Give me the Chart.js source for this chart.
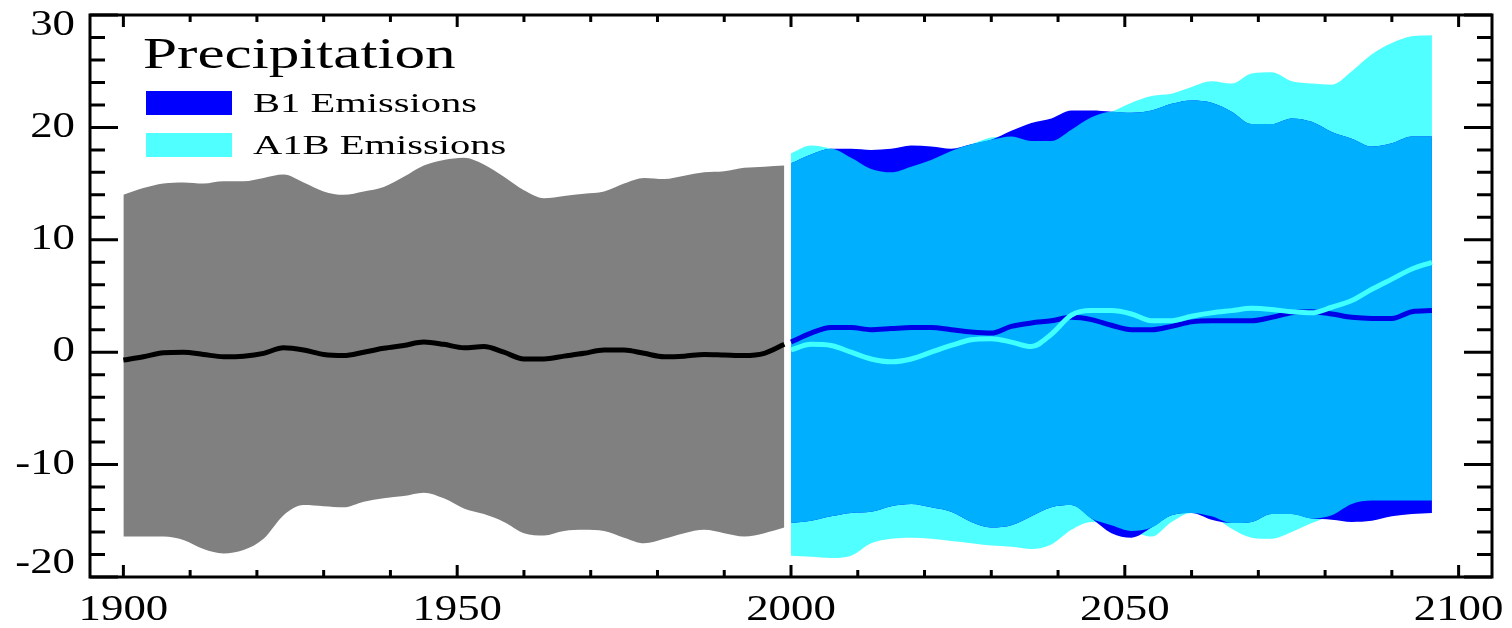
<!DOCTYPE html>
<html>
<head>
<meta charset="utf-8">
<script src="https://cdn.jsdelivr.net/npm/chart.js@4.4.1/dist/chart.umd.min.js"></script>
<style>
  html, body { margin: 0; padding: 0; background: #fff; }
  #wrap { width: 1512px; height: 628px; position: relative; }
</style>
</head>
<body>
<div id="wrap"><canvas id="myChart"></canvas></div>
<script>
const histYears = [1900, 1903, 1906, 1909, 1912, 1915, 1918, 1921, 1924, 1927, 1930, 1933, 1936, 1939, 1942, 1945, 1948,
    1951, 1954, 1957, 1960, 1963, 1966, 1969, 1972, 1975, 1978, 1981, 1984, 1987, 1990, 1993, 1996, 1999];
const histUpper = [14.0, 14.6, 15.0, 15.1, 15.0, 15.2, 15.2, 15.5, 15.8, 15.1, 14.3, 14.0, 14.3, 14.7, 15.6, 16.6, 17.1,
    17.3, 16.7, 15.6, 14.4, 13.7, 13.9, 14.1, 14.3, 15.0, 15.5, 15.4, 15.7, 16.0, 16.1, 16.4, 16.5, 16.6];
const histLower = [-16.4, -16.4, -16.4, -16.7, -17.5, -17.9, -17.6, -16.6, -14.5, -13.6, -13.7, -13.8, -13.3, -13.0, -12.8, -12.5, -13.0,
    -13.9, -14.4, -15.1, -16.1, -16.3, -15.9, -15.8, -15.9, -16.5, -17.0, -16.6, -16.1, -15.8, -16.1, -16.4, -16.1, -15.6];
const histMean = [-0.7, -0.4, -0.05, 0.0, -0.2, -0.4, -0.35, -0.1, 0.4, 0.2, -0.2, -0.3, 0.0, 0.35, 0.6, 0.9, 0.7,
    0.4, 0.5, 0.0, -0.6, -0.6, -0.35, -0.1, 0.2, 0.2, -0.1, -0.4, -0.35, -0.2, -0.25, -0.3, -0.1, 0.7];

const futYears = [2000, 2003, 2006, 2009, 2012, 2015, 2018, 2021, 2024, 2027, 2030, 2033, 2036, 2039, 2042, 2045, 2048,
    2051, 2054, 2057, 2060, 2063, 2066, 2069, 2072, 2075, 2078, 2081, 2084, 2087, 2090, 2093, 2096];
const b1Upper = [16.8, 17.6, 18.1, 18.1, 18.0, 18.1, 18.4, 18.3, 18.1, 18.5, 18.9, 19.7, 20.4, 20.8, 21.5, 21.5, 21.4,
    21.3, 21.5, 22.1, 22.4, 22.2, 21.4, 20.3, 20.3, 20.8, 20.5, 19.6, 19.0, 18.3, 18.6, 19.2, 19.2];
const b1Lower = [-15.2, -15.0, -14.6, -14.3, -14.2, -13.7, -13.5, -13.8, -14.2, -15.1, -15.6, -15.4, -14.6, -13.8, -13.6, -14.8, -16.1,
    -16.5, -15.6, -14.5, -14.3, -14.9, -15.2, -15.1, -14.4, -14.4, -14.8, -14.9, -15.1, -15.0, -14.6, -14.4, -14.3];
const b1Mean = [0.9, 1.7, 2.2, 2.2, 2.0, 2.1, 2.2, 2.2, 2.0, 1.8, 1.7, 2.3, 2.6, 2.8, 3.1, 2.9, 2.4,
    2.0, 2.0, 2.3, 2.7, 2.8, 2.8, 2.8, 3.1, 3.5, 3.6, 3.4, 3.1, 3.0, 3.0, 3.6, 3.7];
const a1bUpper = [17.7, 18.4, 18.1, 17.3, 16.3, 16.0, 16.5, 17.1, 17.9, 18.5, 19.1, 19.2, 18.8, 18.8, 19.8, 20.9, 21.4,
    22.2, 22.8, 23.0, 23.6, 24.1, 23.9, 24.8, 24.9, 24.1, 23.9, 23.8, 25.0, 26.5, 27.5, 28.1, 28.2];
const a1bLower = [-18.1, -18.2, -18.3, -18.1, -17.0, -16.6, -16.5, -16.6, -16.8, -17.0, -17.2, -17.3, -17.5, -17.1, -15.8, -15.1, -15.4,
    -15.9, -16.4, -15.1, -14.3, -14.6, -15.7, -16.5, -16.6, -16.0, -15.2, -14.5, -13.5, -13.2, -13.2, -13.2, -13.2];
const a1bMean = [0.2, 0.7, 0.6, 0.0, -0.6, -0.85, -0.6, 0.0, 0.6, 1.1, 1.2, 0.9, 0.5, 1.6, 3.3, 3.7, 3.7,
    3.4, 2.8, 2.8, 3.2, 3.5, 3.7, 3.9, 3.8, 3.6, 3.5, 4.0, 4.6, 5.6, 6.5, 7.4, 8.0];

const yTicks = [-20, -10, 0, 10, 20, 30];
const xTicks = [1900, 1950, 2000, 2050, 2100];

const pts = (xs, ys) => xs.map((x, i) => ({ x: x, y: ys[i] }));
const bothLower = b1Lower.map((v, i) => Math.max(v, a1bLower[i]));
const bothUpper = b1Upper.map((v, i) => Math.min(v, a1bUpper[i]));

const band = (data, color, fill, order) => ({
    data: data,
    borderWidth: 0,
    borderColor: 'rgba(0,0,0,0)',
    backgroundColor: color,
    pointRadius: 0,
    fill: fill,
    order: order
});

const line = (data, color, order) => ({
    data: data,
    borderWidth: 5,
    borderColor: color,
    pointRadius: 0,
    fill: false,
    order: order
});

function stretchText(ctx, text, x, y, size, sx, align, base) {
    ctx.save();
    ctx.font = size + 'px "Liberation Serif", "Times New Roman", serif';
    ctx.textAlign = 'left';
    ctx.textBaseline = base;
    const w = ctx.measureText(text).width * sx;
    let left = x;
    if (align === 'right') left = x - w;
    if (align === 'center') left = x - w / 2;
    ctx.translate(left, y);
    ctx.scale(sx, 1);
    ctx.fillStyle = '#000';
    ctx.fillText(text, 0, 0);
    ctx.restore();
}

const framePlugin = {
    id: 'frame',
    afterDraw(chart) {
        const ctx = chart.ctx;
        const a = chart.chartArea;
        const xs = chart.scales.x;
        const ys = chart.scales.y;
        ctx.save();
        ctx.strokeStyle = '#000';
        ctx.lineWidth = 3;
        ctx.strokeRect(a.left, a.top, a.right - a.left, a.bottom - a.top);

        ctx.beginPath();
        for (let v = -20; v <= 30; v += 2) {
            const py = ys.getPixelForValue(v);
            const len = v % 10 === 0 ? 28 : 15;
            ctx.moveTo(a.left, py); ctx.lineTo(a.left + len, py);
            ctx.moveTo(a.right, py); ctx.lineTo(a.right - len, py);
        }
        for (let v = 1900; v <= 2100; v += 10) {
            const px = xs.getPixelForValue(v);
            const len = v % 50 === 0 ? 12 : 7;
            ctx.moveTo(px, a.bottom); ctx.lineTo(px, a.bottom - len);
            ctx.moveTo(px, a.top); ctx.lineTo(px, a.top + len);
        }
        ctx.stroke();
        ctx.restore();

        yTicks.forEach(v => {
            let py = ys.getPixelForValue(v);
            py = Math.max(a.top + 11, Math.min(a.bottom - 13, py));
            stretchText(ctx, String(v), 75, py, 35, 1.28, 'right', 'middle');
        });
        xTicks.forEach(v => {
            stretchText(ctx, String(v), xs.getPixelForValue(v), 611, 35, 1.28, 'center', 'middle');
        });

        stretchText(ctx, 'Precipitation', 143, 68, 45, 1.36, 'left', 'alphabetic');
        ctx.fillStyle = '#0000FF';
        ctx.fillRect(146, 91, 86, 24);
        ctx.fillStyle = '#50FFFF';
        ctx.fillRect(146, 133, 86, 24);
        stretchText(ctx, 'B1 Emissions', 253, 112, 27, 1.5, 'left', 'alphabetic');
        stretchText(ctx, 'A1B Emissions', 253, 154, 27, 1.5, 'left', 'alphabetic');
    }
};

const ctx = document.getElementById('myChart').getContext('2d');
window.chart = new Chart(ctx, {
    type: 'line',
    data: {
        datasets: [
            band(pts(histYears, histLower), '#808080', false, 9),
            band(pts(histYears, histUpper), '#808080', '-1', 8),
            band(pts(futYears, a1bLower), '#50FFFF', false, 7),
            band(pts(futYears, a1bUpper), '#50FFFF', '-1', 6),
            band(pts(futYears, b1Lower), '#0000FF', false, 5),
            band(pts(futYears, b1Upper), '#0000FF', '-1', 4),
            band(pts(futYears, bothLower), '#00B0FF', false, 3),
            band(pts(futYears, bothUpper), '#00B0FF', '-1', 2),
            line(pts(histYears, histMean), '#000000', 1),
            line(pts(futYears, a1bMean), '#40FFFF', 0),
            line(pts(futYears, b1Mean), '#0000E6', 0)
        ]
    },
    options: {
        responsive: true,
        maintainAspectRatio: false,
        animation: false,
        devicePixelRatio: 1,
        layout: { padding: { left: 90, top: 15, right: 20, bottom: 51 } },
        elements: { line: { cubicInterpolationMode: 'monotone' } },
        plugins: { legend: { display: false }, tooltip: { enabled: false } },
        scales: {
            x: { type: 'linear', min: 1895, max: 2105, display: false },
            y: { type: 'linear', min: -20, max: 30, display: false }
        }
    },
    plugins: [framePlugin]
});
</script>
</body>
</html>
